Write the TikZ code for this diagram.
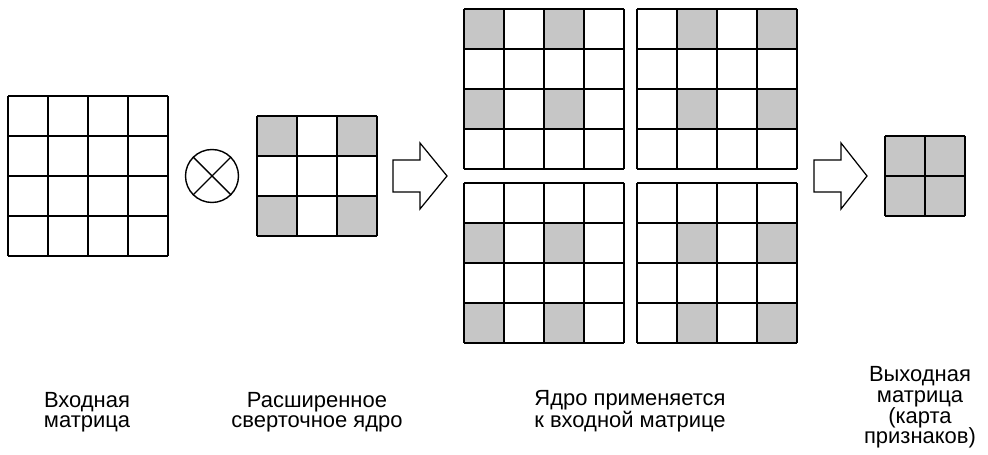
\documentclass[tikz,border=0pt]{standalone}
\usepackage{fontspec}
\setmainfont{Liberation Sans}
\usetikzlibrary{positioning}
\definecolor{cellgray}{RGB}{198,198,198}

% grid lines of an n x n matrix, top-left corner at (#1,#2)
\newcommand{\matgrid}[3]{%
  \foreach \k in {0,...,#3} {
    \draw[gridline] ({#1+40*\k},#2) -- ++(0,{40*#3});
    \draw[gridline] (#1,{#2+40*\k}) -- ++({40*#3},0);
  }
}
% shaded cells, given as column/row
\newcommand{\graycells}[3]{%
  \foreach \i/\j in {#3} {\fill[cellgray] ({#1+40*\i},{#2+40*\j}) rectangle ++(40,40);}
}

\begin{document}
\begin{tikzpicture}[x=0.02cm, y=-0.02cm,
  gridline/.style={line width=0.8pt},
  blockarrow/.style={line width=0.7pt, line join=miter, fill=white},
  caption/.style={align=center, anchor=base, inner sep=0pt, font=\fontsize{12.5}{11.8}\selectfont}]
\useasboundingbox (0,0) rectangle (988,455);
% Input matrix
\matgrid{8}{96}{4}
% Operator
\node[circle, draw, line width=0.8pt, minimum size=1.06cm, inner sep=0pt] (op) at (212,176) {};
\draw[line width=0.8pt] (op.north west) -- (op.south east);
\draw[line width=0.8pt] (op.north east) -- (op.south west);
% Dilated kernel
\graycells{257}{116}{0/0,2/0,0/2,2/2}
\matgrid{257}{116}{3}
% Arrow
\coordinate (tipa) at (447,176);
\draw[blockarrow] (tipa) -- ++(-27,-33) -- ++(0,17) -- ++(-27,0) -- ++(0,32) -- ++(27,0) -- ++(0,17) -- cycle;
% Kernel applied to the input
\graycells{464}{9}{0/0,2/0,0/2,2/2}
\matgrid{464}{9}{4}
\graycells{637}{9}{1/0,3/0,1/2,3/2}
\matgrid{637}{9}{4}
\graycells{464}{183}{0/1,2/1,0/3,2/3}
\matgrid{464}{183}{4}
\graycells{637}{183}{1/1,3/1,1/3,3/3}
\matgrid{637}{183}{4}
% Arrow
\coordinate (tipb) at (867,176);
\draw[blockarrow] (tipb) -- ++(-26,-33) -- ++(0,17) -- ++(-27,0) -- ++(0,32) -- ++(27,0) -- ++(0,17) -- cycle;
% Output matrix
\graycells{885}{136}{0/0,1/0,0/1,1/1}
\matgrid{885}{136}{2}
% Captions (anchored at the baseline of the last line)
\node[caption] (capin) at (87,428) {Входная\\матрица};
\node[caption] (capker) at (317,428) {Расширенное\\сверточное ядро};
\node[caption] (capapp) at (630,428) {Ядро применяется\\к входной матрице};
\node[caption] (capout) at (920,444) {Выходная\\матрица\\(карта\\признаков)};
\end{tikzpicture}
\end{document}
